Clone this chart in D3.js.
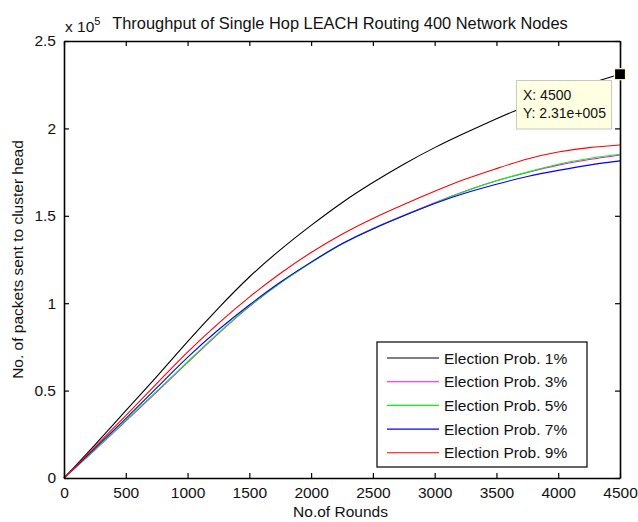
<!DOCTYPE html>
<html>
<head>
<meta charset="utf-8">
<script src="https://cdn.jsdelivr.net/npm/d3@7"></script>
<style>
  html, body { margin: 0; padding: 0; background: #fff; }
  svg { display: block; font-family: "Liberation Sans", Arial, sans-serif; }
</style>
</head>
<body>
<svg id="chart" width="638" height="522"></svg>
<script>
// ---- data (packets, in units of 1e5) ----
const rounds = [0, 250, 500, 750, 1000, 1250, 1500, 1750, 2000, 2250, 2500, 2750, 3000, 3250, 3500, 3750, 4000, 4250, 4500];
const prob1 = [0, 0.19, 0.385, 0.58, 0.78, 0.972, 1.15, 1.305, 1.445, 1.575, 1.69, 1.795, 1.89, 1.975, 2.055, 2.13, 2.195, 2.255, 2.31];
const prob3 = [0, 0.16, 0.325, 0.492, 0.66, 0.826, 0.98, 1.115, 1.233, 1.34, 1.428, 1.503, 1.575, 1.642, 1.70, 1.748, 1.79, 1.822, 1.848];
const prob5 = [0, 0.163, 0.33, 0.497, 0.665, 0.83, 0.983, 1.115, 1.232, 1.338, 1.425, 1.50, 1.572, 1.64, 1.70, 1.75, 1.795, 1.828, 1.852];
const prob7 = [0, 0.17, 0.34, 0.515, 0.69, 0.848, 0.99, 1.12, 1.235, 1.34, 1.425, 1.50, 1.57, 1.63, 1.68, 1.725, 1.76, 1.79, 1.814];
const prob9 = [0, 0.178, 0.357, 0.54, 0.72, 0.885, 1.035, 1.17, 1.29, 1.395, 1.485, 1.565, 1.64, 1.71, 1.77, 1.825, 1.865, 1.89, 1.905];
const seriesNames = ["Election Prob. 1%", "Election Prob. 3%", "Election Prob. 5%", "Election Prob. 7%", "Election Prob. 9%"];
const seriesColors = ["#000000", "#ff00ff", "#00ff00", "#0000ff", "#ff0000"];
const xTicks = [0, 500, 1000, 1500, 2000, 2500, 3000, 3500, 4000, 4500];
const yTicks = [0, 0.5, 1, 1.5, 2, 2.5];
const tipX = 4500, tipY = 2.31;

const series = [prob1, prob3, prob5, prob7, prob9];

const svg = d3.select("#chart");
const L = 64, R = 620, T = 41, B = 478;

const x = d3.scaleLinear().domain([0, 4500]).range([L, R]);
const y = d3.scaleLinear().domain([0, 2.5]).range([B, T]);

// lines
const line = d3.line().x((d, i) => x(rounds[i])).y(d => y(d)).curve(d3.curveNatural);
const plot = svg.append("g");
series.forEach((s, k) => {
  plot.append("path").datum(s)
    .attr("d", line)
    .attr("fill", "none")
    .attr("stroke", seriesColors[k])
    .attr("stroke-width", 1.1);
});

// axes (MATLAB-style box with inward ticks)
const fmtY = d => d3.format("")(d);
const axB = d3.axisBottom(x).tickValues(xTicks).tickSizeInner(-5).tickSizeOuter(0).tickPadding(9).tickFormat(d3.format("d"));
const axT = d3.axisTop(x).tickValues(xTicks).tickSizeInner(-5).tickSizeOuter(0).tickFormat("");
const axL = d3.axisLeft(y).tickValues(yTicks).tickSizeInner(-5).tickSizeOuter(0).tickPadding(8).tickFormat(fmtY);
const axR = d3.axisRight(y).tickValues(yTicks).tickSizeInner(-5).tickSizeOuter(0).tickFormat("");

function style(g) {
  g.selectAll("path.domain").attr("stroke", "#000").attr("stroke-width", 1.6);
  g.selectAll(".tick line").attr("stroke", "#000").attr("stroke-width", 1.2);
  g.selectAll(".tick text").attr("fill", "#111").style("font-size", "15.5px").style("font-family", "'Liberation Sans', Arial, sans-serif");
}
svg.append("g").attr("transform", `translate(0,${B})`).call(axB).call(style);
svg.append("g").attr("transform", `translate(0,${T})`).call(axT).call(style);
svg.append("g").attr("transform", `translate(${L},0)`).call(axL).call(style);
svg.append("g").attr("transform", `translate(${R},0)`).call(axR).call(style);

// exponent
const ex = svg.append("text").attr("x", 65).attr("y", 32).attr("fill", "#111").style("font-size", "15.5px");
ex.append("tspan").text("x 10");
ex.append("tspan").attr("dy", -7).style("font-size", "11px").text("5");

// title
svg.append("text").attr("x", 340).attr("y", 29).attr("text-anchor", "middle")
  .attr("fill", "#111").style("font-size", "16.4px")
  .text("Throughput of Single Hop LEACH Routing 400 Network Nodes");

// axis labels
svg.append("text").attr("x", 340.5).attr("y", 517).attr("text-anchor", "middle")
  .attr("fill", "#111").style("font-size", "15.5px").text("No.of Rounds");
svg.append("text").attr("transform", `translate(23,${(T + B) / 2}) rotate(-90)`).attr("text-anchor", "middle")
  .attr("fill", "#111").style("font-size", "15.5px").text("No. of packets sent to cluster head");

// legend
const lg = svg.append("g");
lg.append("rect").attr("x", 377).attr("y", 342).attr("width", 210).attr("height", 125)
  .attr("fill", "#fff").attr("stroke", "#000").attr("stroke-width", 1.2);
seriesNames.forEach((n, k) => {
  const cy = 358 + k * 23.7;
  lg.append("line").attr("x1", 387).attr("x2", 439).attr("y1", cy).attr("y2", cy)
    .attr("stroke", seriesColors[k]).attr("stroke-width", 1.1);
  lg.append("text").attr("x", 444).attr("y", cy + 5.5).attr("fill", "#111")
    .style("font-size", "15.5px").text(n);
});

// data tip
const tip = svg.append("g");
tip.append("rect").attr("x", 516.5).attr("y", 80.5).attr("width", 95).attr("height", 48.5)
  .attr("fill", "#ffffe1").attr("stroke", "#c8c8c0").attr("stroke-width", 1);
tip.append("text").attr("x", 523).attr("y", 100).attr("fill", "#111").style("font-size", "14px").text("X: " + tipX);
tip.append("text").attr("x", 523).attr("y", 118).attr("fill", "#111").style("font-size", "14px").text("Y: " + tipY.toFixed(2) + "e+005");
tip.append("rect").attr("x", x(tipX) - 5.5).attr("y", y(tipY) - 5.5).attr("width", 11).attr("height", 11)
  .attr("fill", "#000").attr("stroke", "#ffffcc").attr("stroke-width", 1.2);
</script>
</body>
</html>
